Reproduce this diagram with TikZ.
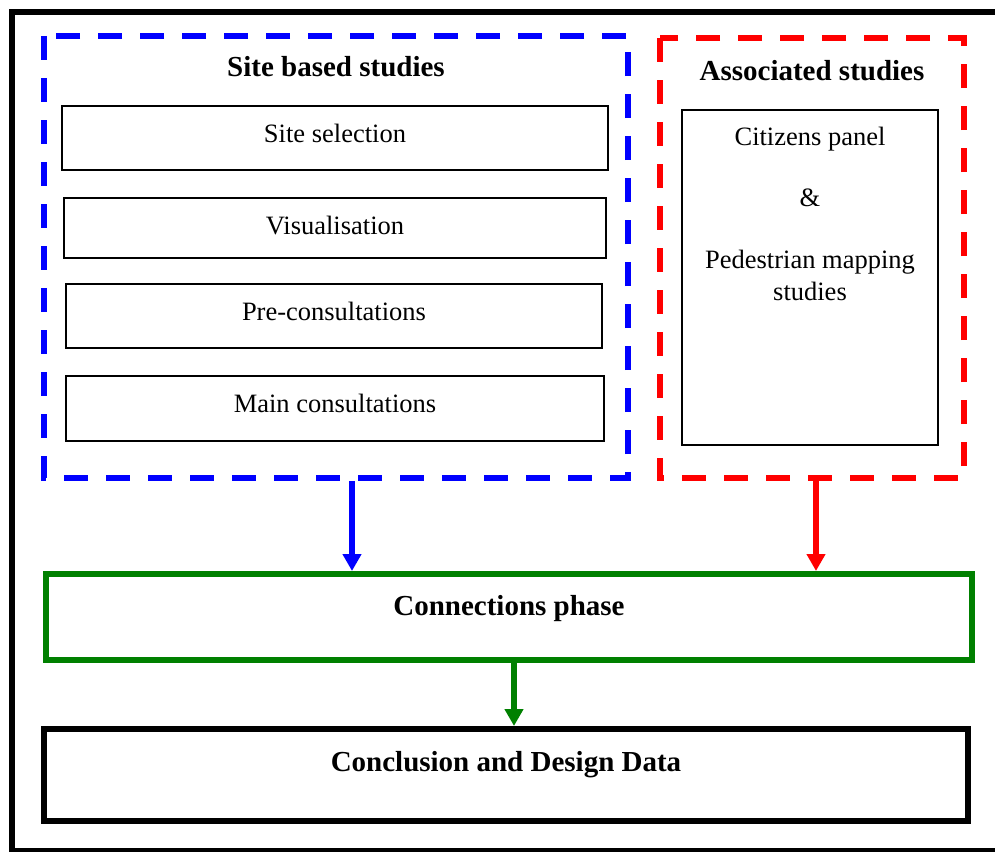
\documentclass[tikz,border=0pt]{standalone}
\usepackage{fontspec}
\setmainfont{Liberation Serif}
\usetikzlibrary{arrows.meta}
\definecolor{bluebox}{RGB}{0,0,255}
\definecolor{redbox}{RGB}{255,0,0}
\definecolor{greenbox}{RGB}{0,128,0}
\tikzset{
  dashbox/.style={line width=6pt, dash pattern=on 24pt off 18pt},
  innerbox/.style={draw=black, line width=2.5pt},
  txt/.style={anchor=base, inner sep=0pt, font=\fontsize{26.5}{30}\selectfont},
  head/.style={anchor=base, inner sep=0pt, font=\fontsize{29}{33}\selectfont\bfseries},
  bigarrow/.style={line width=6pt, -{Triangle[length=17pt,width=18pt]}},
}
\begin{document}
\begin{tikzpicture}[x=1pt,y=-1pt]
\useasboundingbox (0,0) rectangle (995,851);
\begin{scope}
\clip (0,0) rectangle (995,851);
\draw[line width=6pt] (12,12) rectangle (1005,851);
\end{scope}
% dashed group boxes
\draw[dashbox, draw=bluebox] (44,36) rectangle (628,478);
\draw[dashbox, draw=redbox] (660,38) rectangle (964,478);
\coordinate (blueS) at (352,481);
\coordinate (redS) at (816,481);
% inner boxes
\node[innerbox, minimum width=546pt, minimum height=64pt, inner sep=0pt] (site) at (335,138) {};
\node[innerbox, minimum width=542pt, minimum height=60pt, inner sep=0pt] (vis) at (335,228) {};
\node[innerbox, minimum width=536pt, minimum height=64pt, inner sep=0pt] (pre) at (334,316) {};
\node[innerbox, minimum width=538pt, minimum height=65pt, inner sep=0pt] (main) at (335,408.5) {};
\node[innerbox, minimum width=256pt, minimum height=335pt, inner sep=0pt] (cit) at (810,277.5) {};
% texts
\node[head] (sbs) at (336,77) {Site based studies};
\node[head] (as) at (812,80) {Associated studies};
\node[txt] (tsite) at (335,142) {Site selection};
\node[txt] (tvis) at (335,234) {Visualisation};
\node[txt] (tpre) at (334,320) {Pre-consultations};
\node[txt] (tmain) at (335,412) {Main consultations};
\node[txt] (tc1) at (810,145) {Citizens panel};
\node[txt] (tc2) at (810,206) {\&};
\node[txt] (tc3) at (810,268) {Pedestrian mapping};
\node[txt] (tc4) at (810,300) {studies};
% phase boxes
\node[draw=greenbox, line width=6pt, minimum width=926pt, minimum height=86pt, inner sep=0pt] (conn) at (509,617) {};
\node[head] (tconn) at (509,615) {Connections phase};
\node[draw=black, line width=6pt, minimum width=924pt, minimum height=92pt, inner sep=0pt] (concl) at (506,775) {};
\node[head] (tconcl) at (506,771) {Conclusion and Design Data};
% arrows
\draw[bigarrow, draw=bluebox, fill=bluebox] (blueS) -- (blueS |- conn.north);
\draw[bigarrow, draw=redbox, fill=redbox] (redS) -- (redS |- conn.north);
\draw[bigarrow, draw=greenbox, fill=greenbox] ([xshift=5pt]conn.south) -- ([xshift=5pt]conn.south |- concl.north);
\end{tikzpicture}
\end{document}
